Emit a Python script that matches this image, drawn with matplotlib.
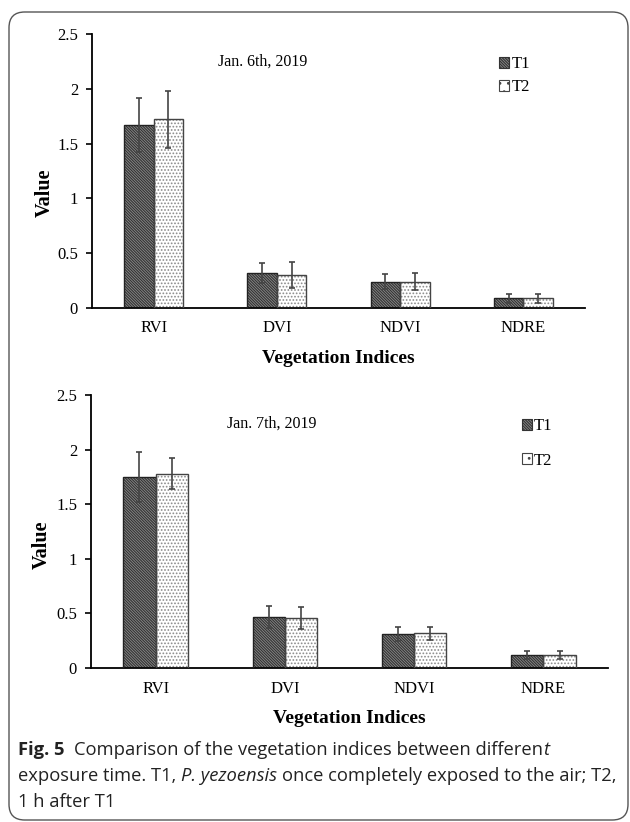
import matplotlib
matplotlib.use("Agg")
import matplotlib.pyplot as plt
import numpy as np
from matplotlib.patches import Patch, FancyBboxPatch

# values
indices = ["RVI", "DVI", "NDVI", "NDRE"]

t1_jan6 = [1.67, 0.32, 0.24, 0.09]
t1_jan6_err = [0.25, 0.09, 0.07, 0.04]
t2_jan6 = [1.72, 0.30, 0.24, 0.09]
t2_jan6_err = [0.26, 0.12, 0.075, 0.04]

t1_jan7 = [1.75, 0.47, 0.31, 0.12]
t1_jan7_err = [0.23, 0.10, 0.065, 0.035]
t2_jan7 = [1.78, 0.46, 0.32, 0.12]
t2_jan7_err = [0.145, 0.10, 0.06, 0.04]

dates = ["Jan. 6th, 2019", "Jan. 7th, 2019"]

plt.rcParams["font.family"] = ["Liberation Serif", "DejaVu Serif"]
plt.rcParams["hatch.linewidth"] = 0.8

W, H = 630, 822
fig = plt.figure(figsize=(W / 100, H / 100), dpi=100)

# rounded frame round the whole figure
frame = FancyBboxPatch((9 / W, 1 - 820 / H), 619 / W, 808 / H,
                       boxstyle="round,pad=0,rounding_size=0.025",
                       transform=fig.transFigure, fill=False,
                       edgecolor="#555555", linewidth=1.0, mutation_aspect=W / H)
fig.patches.append(frame)

T1_HATCH = "\\" * 12
T2_HATCH = "....."


def px_axes(left, right, top, bottom):
    return fig.add_axes([left / W, 1 - bottom / H, (right - left) / W, (bottom - top) / H])


def bar_panel(ax, t1, t1e, t2, t2e, width, date, date_xy, leg_xy, leg_space, ylab_y):
    x = np.arange(len(indices)) + 0.5
    # hatched fills
    ax.bar(x - width / 2, t1, width, color="#8a8a8a", edgecolor="#333333",
           hatch=T1_HATCH, linewidth=0, zorder=2)
    ax.bar(x + width / 2, t2, width, color="white", edgecolor="#8a8a8a",
           hatch=T2_HATCH, linewidth=0, zorder=2)
    # outlines
    ax.bar(x - width / 2, t1, width, fill=False, edgecolor="#222222", linewidth=1.0, zorder=3)
    ax.bar(x + width / 2, t2, width, fill=False, edgecolor="#444444", linewidth=1.0, zorder=3)
    ax.errorbar(x - width / 2, t1, yerr=t1e, fmt="none", ecolor="#444444",
                elinewidth=1.2, capsize=2.5, capthick=1.2, zorder=4)
    ax.errorbar(x + width / 2, t2, yerr=t2e, fmt="none", ecolor="#444444",
                elinewidth=1.2, capsize=2.5, capthick=1.2, zorder=4)

    ax.set_xlim(0, len(indices))
    ax.set_ylim(0, 2.5)
    ax.set_yticks([0, 0.5, 1, 1.5, 2, 2.5])
    ax.set_yticklabels(["0", "0.5", "1", "1.5", "2", "2.5"])
    ax.set_xticks(x)
    ax.set_xticklabels(indices)
    ax.tick_params(axis="x", length=0, labelsize=12, pad=9)
    ax.tick_params(axis="y", length=4, width=1.2, labelsize=12, pad=6)
    for s in ["top", "right"]:
        ax.spines[s].set_visible(False)
    ax.spines["left"].set_linewidth(1.3)
    ax.spines["bottom"].set_linewidth(1.3)

    ax.set_xlabel("Vegetation Indices", fontsize=14, fontweight="bold", labelpad=10)
    ax.set_ylabel("Value", fontsize=14.5, fontweight="bold")
    ax.yaxis.set_label_coords(-0.075, ylab_y)

    ax.text(date_xy[0], date_xy[1], date, transform=ax.transAxes,
            fontsize=11.5, va="center", ha="left")

    handles = [Patch(facecolor="#8a8a8a", edgecolor="#333333", hatch=T1_HATCH, linewidth=0.8),
               Patch(facecolor="white", edgecolor="#444444", hatch="..", linewidth=0.8)]
    ax.legend(handles, ["T1", "T2"], loc="upper left", bbox_to_anchor=leg_xy,
              frameon=False, fontsize=12, handlelength=0.6, handleheight=0.6,
              handletextpad=0.15, labelspacing=leg_space, borderpad=0, borderaxespad=0)


ax1 = px_axes(92, 585, 34, 308)
bar_panel(ax1, t1_jan6, t1_jan6_err, t2_jan6, t2_jan6_err, 0.24, dates[0],
          (0.256, 0.899), (0.826, 0.918), 0.4, 0.42)

ax2 = px_axes(91, 608, 395, 668)
bar_panel(ax2, t1_jan7, t1_jan7_err, t2_jan7, t2_jan7_err, 0.25, dates[1],
          (0.263, 0.894), (0.833, 0.915), 1.1, 0.45)

# caption, built piece by piece so bold / italic runs line up
cap_font = ["Open Sans", "DejaVu Sans"]
fig.canvas.draw()
renderer = fig.canvas.get_renderer()


def text_width(s, size, **kw):
    t = fig.text(0, 0, s, fontsize=size, family=cap_font, **kw)
    w = t.get_window_extent(renderer).width
    t.remove()
    return w


caption_lines = [
    [("Fig. 5", {"fontweight": "bold"}), ("  ", None),
     ("Comparison of the vegetation indices between differen", {}), ("t", {"style": "italic"})],
    [("exposure time. T1,", {}), (" ", None), ("P. yezoensis", {"style": "italic"}), (" ", None),
     ("once completely exposed to the air; T2,", {})],
    [("1 h after T1", {})],
]
caption_y = [750, 776, 802]

# size the caption so the second line spans the same width as in the reference
line2 = "exposure time. T1, P. yezoensis once completely exposed to the air; T2,"
cap_size = 12.0 * 603 / text_width(line2, 12.0)
space = text_width("a a", cap_size) - text_width("aa", cap_size)

for line, ypx in zip(caption_lines, caption_y):
    xpx = 18
    for s, kw in line:
        if kw is None:
            xpx += space * len(s)
            continue
        t = fig.text(xpx / W, 1 - ypx / H, s, fontsize=cap_size, family=cap_font,
                     va="center", ha="left", color="#222222", **kw)
        xpx += t.get_window_extent(renderer).width

fig.savefig("out.png", dpi=100)
